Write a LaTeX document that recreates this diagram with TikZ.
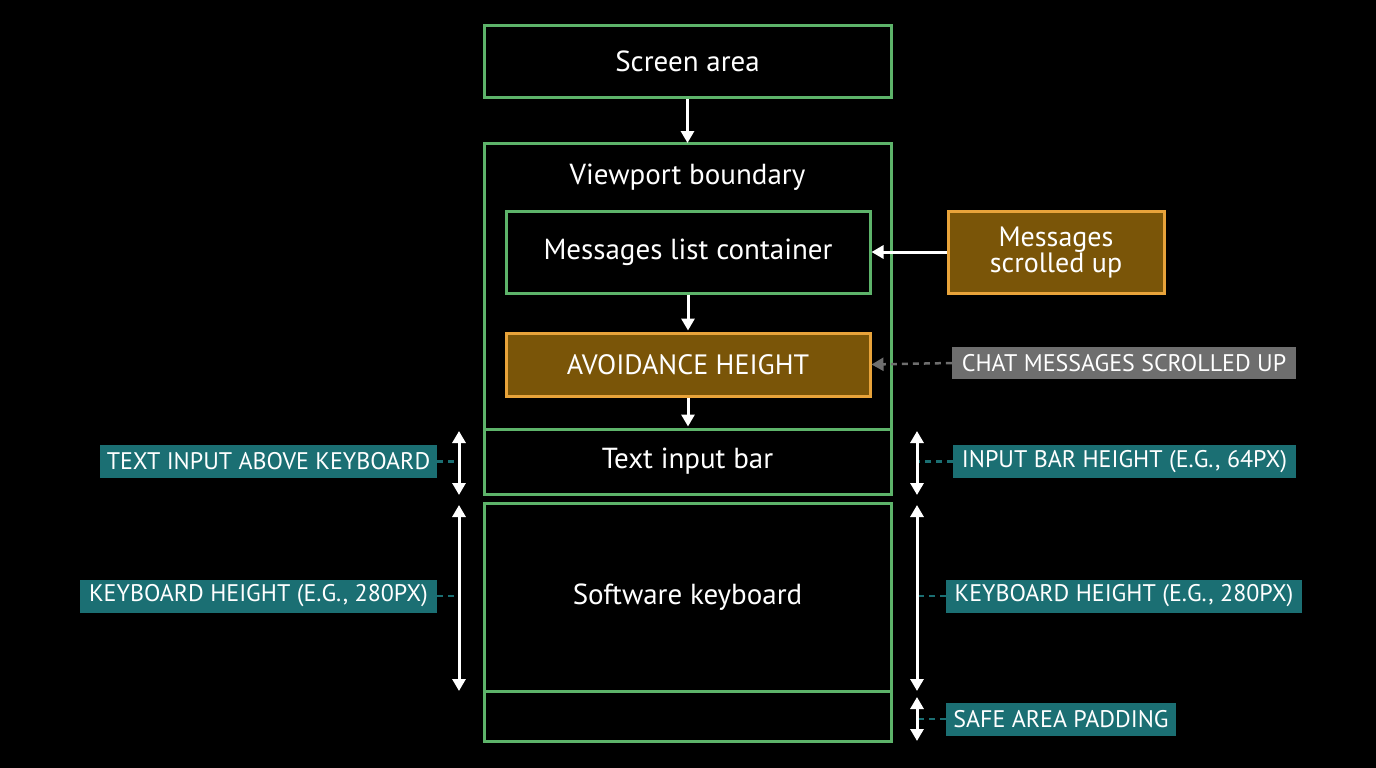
\documentclass[tikz,border=0pt]{standalone}
\usepackage{fontspec}
\setmainfont{PT Sans}
\usetikzlibrary{arrows.meta}
\definecolor{grn}{HTML}{5DB36A}
\definecolor{org}{HTML}{E8A33A}
\definecolor{orgf}{HTML}{7A5508}
\definecolor{teal}{HTML}{1B6F73}
\definecolor{gry}{HTML}{6E6E6E}
\begin{document}
\begin{tikzpicture}[x=1pt,y=-1pt,
  box/.style={draw=grn,line width=3pt,minimum width=#1,text=white,font=\fontsize{29}{32}\selectfont,inner sep=0pt},
  obox/.style={draw=org,fill=orgf,line width=3pt,text=white,font=\fontsize{28}{30}\selectfont,inner sep=0pt,align=center},
  tag/.style={fill=teal,text=white,font=\fontsize{24}{26}\selectfont,inner sep=0pt,minimum height=33pt},
  arr/.style={white,line width=3pt,-{Triangle[length=12pt,width=13pt]}},
  darr/.style={white,line width=3pt,{Triangle[length=12pt,width=13pt]}-{Triangle[length=12pt,width=13pt]}},
  tdash/.style={teal,line width=2.5pt,dash pattern=on 6pt off 5pt}]
\fill[black] (0,0) rectangle (1376,768);
\useasboundingbox (0,0) rectangle (1376,768);
\node[box=407pt,minimum height=71pt] (screen) at (687.5,61.5) {Screen area};
\draw[grn,line width=3pt] (484,143) rectangle (891,429);
\node[text=white,font=\fontsize{29}{32}\selectfont] (vp) at (687.5,177) {Viewport boundary};
\coordinate (vptop) at (687.5,143);
\node[box=364pt,minimum height=82pt] (msg) at (688,252) {Messages list container};
\node[obox,minimum width=364pt,minimum height=63pt] (avoid) at (688,364.5) {AVOIDANCE HEIGHT};
\node[box=407pt,minimum height=65pt] (input) at (687.5,461.5) {Text input bar};
\node[box=407pt,minimum height=188pt] (kb) at (687.5,597) {Software keyboard};
\node[box=407pt,minimum height=50pt] (safe) at (687.5,716) {};
\node[obox,minimum width=216pt,minimum height=82pt] (scroll) at (1056,252) {Messages\\[-4pt]scrolled up};
\node[fill=gry,text=white,font=\fontsize{24}{26}\selectfont,inner sep=0pt,minimum width=344pt,minimum height=32pt] (chat) at (1124,363) {CHAT MESSAGES SCROLLED UP};
\draw[arr] (screen.south) -- (vptop);
\draw[arr] (msg.south) -- ++(0,36);
\draw[arr] (avoid.south) -- ++(0,29);
\draw[arr] (scroll.west) -- (msg.east);
\draw[gry,line width=2.5pt,dash pattern=on 6pt off 5pt,-{Triangle[length=12pt,width=13pt]}] (chat.west) -- (avoid.east);
\coordinate (l1a) at (459,431); \coordinate (l1b) at (459,495);
\coordinate (l2a) at (459,505); \coordinate (l2b) at (459,691);
\coordinate (r1a) at (917,431); \coordinate (r1b) at (917,495);
\coordinate (r2a) at (917,505); \coordinate (r2b) at (917,691);
\coordinate (r3a) at (917,697); \coordinate (r3b) at (917,741);
\node[tag,minimum width=337pt] (t1) at (268.5,461.5) {TEXT INPUT ABOVE KEYBOARD};
\node[tag,minimum width=357pt] (t2) at (258.5,596) {KEYBOARD HEIGHT (E.G., 280PX)};
\node[tag,minimum width=343pt] (t3) at (1124.5,461.5) {INPUT BAR HEIGHT (E.G., 64PX)};
\node[tag,minimum width=356pt] (t4) at (1124,596) {KEYBOARD HEIGHT (E.G., 280PX)};
\node[tag,minimum width=230pt] (t5) at (1061,719) {SAFE AREA PADDING};
\draw[tdash] (t1.east) -- (459,461.5);
\draw[tdash] (t2.east) -- (459,596);
\draw[tdash] (t3.west) -- (917,461.5);
\draw[tdash] (t4.west) -- (917,596);
\draw[tdash] (t5.west) -- (917,719);
\draw[darr] (l1a) -- (l1b);
\draw[darr] (l2a) -- (l2b);
\draw[darr] (r1a) -- (r1b);
\draw[darr] (r2a) -- (r2b);
\draw[darr] (r3a) -- (r3b);
\end{tikzpicture}
\end{document}
